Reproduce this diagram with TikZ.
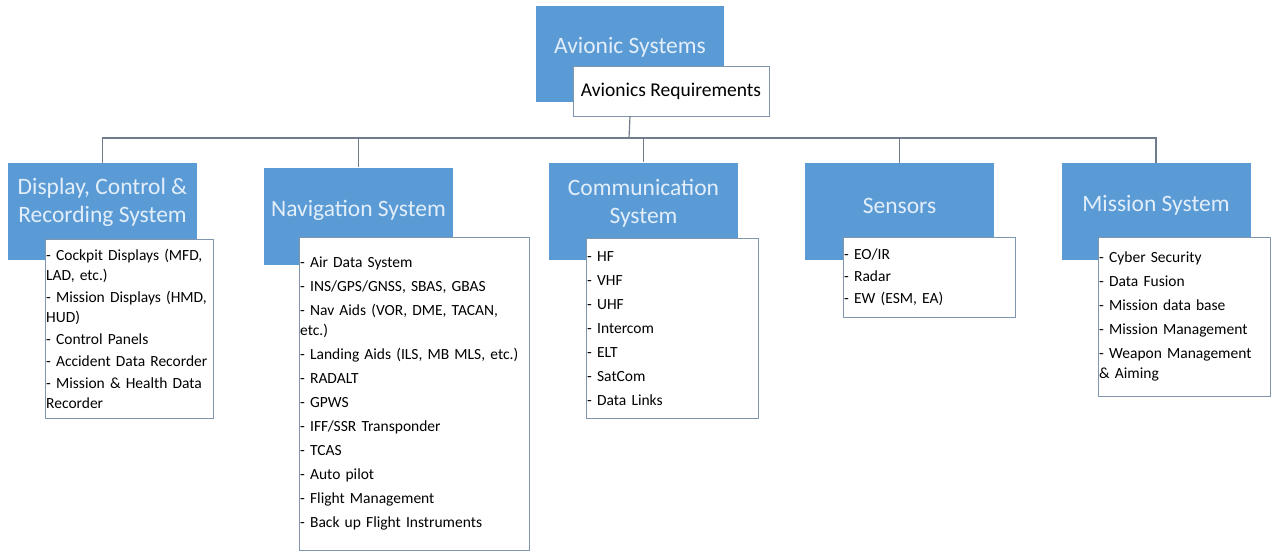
\documentclass[tikz,border=0pt]{standalone}
\usepackage{fontspec}
\setmainfont{Carlito}
\usetikzlibrary{positioning}
\definecolor{avblue}{RGB}{91,155,213}
\definecolor{avhead}{RGB}{226,238,250}
\definecolor{avline}{RGB}{112,124,140}
\definecolor{avframe}{RGB}{128,150,175}
\tikzset{
  headbox/.style={fill=avblue, minimum width=189pt, minimum height=97pt, inner sep=0pt},
  headtext/.style={text=avhead, font=\fontsize{23.5}{28}\selectfont, align=center, inner sep=0pt},
  reqbox/.style={draw=avframe, fill=white, minimum width=196pt, minimum height=50pt, inner sep=0pt, font=\fontsize{19.5}{22}\selectfont},
  listbox/.style 2 args={draw=avframe, fill=white, anchor=north west, align=left, text width=#1, minimum height=#2, inner xsep=1pt, inner ysep=0pt, font=\fontsize{15.5}{20}\selectfont},
  conn/.style={draw=avline, line width=1.2pt}
}

\begin{document}
\begin{tikzpicture}[x=1pt, y=-1pt]
  \useasboundingbox (0,0) rectangle (1271,551);
  % top
  \node[headbox, minimum width=188pt, minimum height=96pt] (avi) at (630,54) {};
  \node[headtext] (avit) at ([yshift=7pt]avi.center) {Avionic Systems};
  \node[reqbox] (req) at (671,91) {Avionics Requirements};
  % second level
  \node[headbox] (disp) at (102.5,211.5) {};
  \node[headbox] (nav) at (358.5,216) {};
  \node[headbox] (comm) at (643.5,211) {};
  \node[headbox] (sens) at (899.5,211.5) {};
  \node[headbox] (miss) at (1156,211.5) {};
  \node[headtext] (dispt) at ([yshift=9pt]disp.center) {Display, Control \&\\ Recording System};
  \node[headtext] (navt) at ([yshift=6pt]nav.center) {Navigation System};
  \node[headtext] (commt) at ([yshift=8pt]comm.center) {Communication\\ System};
  \node[headtext] (senst) at ([yshift=6pt]sens.center) {Sensors};
  \node[headtext] (misst) at ([yshift=6pt]miss.center) {Mission System};
  % connectors
  \coordinate (bus) at (629,138);
  \draw[conn] (req.south -| avi.center) -- (bus);
  \foreach \n in {disp,nav,comm,sens,miss}
    \draw[conn] (bus) -| (\n.north);
  % lists
  \node[listbox={166pt}{179pt}] (displist) at (45,239) {- Cockpit Displays (MFD,\\ LAD, etc.)\\[2pt] - Mission Displays (HMD,\\ HUD)\\[2pt] - Control Panels\\[2pt] - Accident Data Recorder\\[2pt] - Mission \& Health Data\\ Recorder};
  \node[listbox={228pt}{313pt}] (navlist) at (299,237) {- Air Data System\\[4pt] - INS/GPS/GNSS, SBAS, GBAS\\[4pt] - Nav Aids (VOR, DME, TACAN,\\ etc.)\\[4pt] - Landing Aids (ILS, MB MLS, etc.)\\[4pt] - RADALT\\[4pt] - GPWS\\[4pt] - IFF/SSR Transponder\\[4pt] - TCAS\\[4pt] - Auto pilot\\[4pt] - Flight Management\\[4pt] - Back up Flight Instruments};
  \node[listbox={170pt}{180pt}] (commlist) at (586,238) {- HF\\[4pt] - VHF\\[4pt] - UHF\\[4pt] - Intercom\\[4pt] - ELT\\[4pt] - SatCom\\[4pt] - Data Links};
  \node[listbox={170pt}{80pt}] (senslist) at (843,237) {- EO/IR\\[2pt] - Radar\\[2pt] - EW (ESM, EA)};
  \node[listbox={170pt}{159pt}] (misslist) at (1098,237) {- Cyber Security\\[4pt] - Data Fusion\\[4pt] - Mission data base\\[4pt] - Mission Management\\[4pt] - Weapon Management\\ \& Aiming};
\end{tikzpicture}
\end{document}
